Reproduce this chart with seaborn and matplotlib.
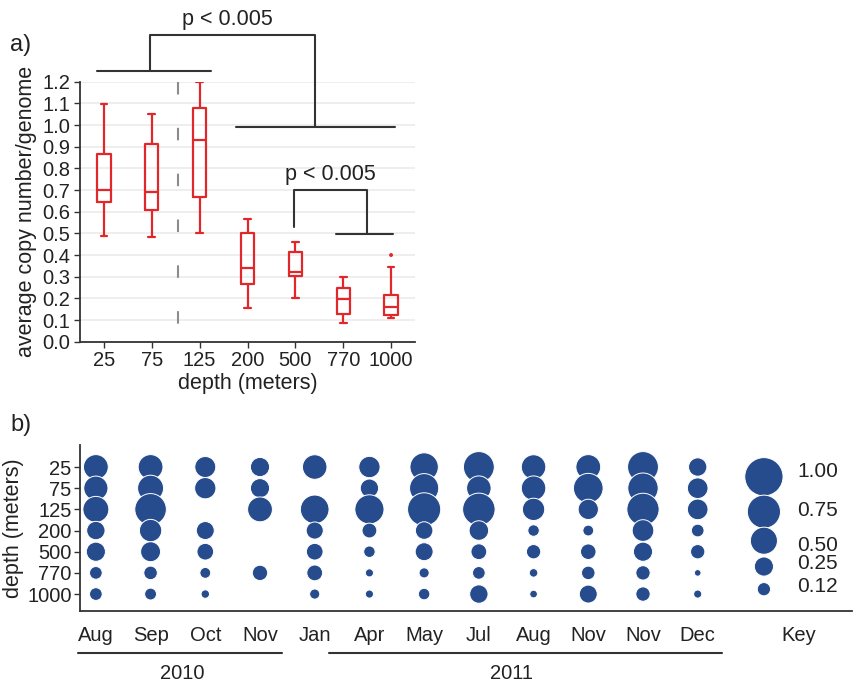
import numpy as np
import pandas as pd
import matplotlib.pyplot as plt
import matplotlib.transforms as mtransforms
import seaborn as sns

# ---- panel a: copy number by depth (box summaries)
depths = ["25", "75", "125", "200", "500", "770", "1000"]
whisk_lo = [0.49, 0.485, 0.503, 0.157, 0.20, 0.085, 0.11]
q1 = [0.646, 0.61, 0.668, 0.266, 0.303, 0.13, 0.123]
median = [0.70, 0.69, 0.929, 0.338, 0.323, 0.197, 0.158]
q3 = [0.866, 0.912, 1.077, 0.50, 0.412, 0.248, 0.215]
whisk_hi = [1.095, 1.05, 1.2, 0.565, 0.458, 0.30, 0.346]
outlier_depth = ["1000"]
outlier_val = [0.40]

# ---- panel b: relative copy number per sampling month and depth
months = ["Aug", "Sep", "Oct", "Nov", "Jan", "Apr", "May", "Jul", "Aug", "Nov", "Nov", "Dec"]
nan = np.nan
d25 = [0.42, 0.42, 0.30, 0.25, 0.41, 0.31, 0.55, 0.65, 0.41, 0.42, 0.65, 0.23]
d75 = [0.40, 0.46, 0.31, 0.25, nan, 0.23, 0.58, 0.41, 0.41, 0.60, 0.63, 0.29]
d125 = [0.46, 0.68, nan, 0.42, 0.56, 0.58, 0.75, 0.72, 0.34, 0.28, 0.71, 0.29]
d200 = [0.23, 0.34, 0.22, nan, 0.20, 0.15, 0.21, 0.26, 0.09, 0.08, 0.32, 0.11]
d500 = [0.25, 0.27, 0.19, nan, 0.19, 0.09, 0.22, 0.17, 0.14, 0.165, 0.25, 0.14]
d770 = [0.11, 0.125, 0.08, 0.16, 0.17, 0.045, 0.07, 0.11, 0.05, 0.125, 0.14, 0.03]
d1000 = [0.11, 0.096, 0.049, nan, 0.07, 0.045, 0.09, 0.23, 0.04, 0.22, 0.14, 0.045]
key_vals = [1.00, 0.75, 0.50, 0.25, 0.12]
key_labels = ["1.00", "0.75", "0.50", "0.25", "0.12"]

red = "#E2272B"
blue = "#274C8E"
dark = "#333333"

sns.set_style("white")
plt.rcParams["font.family"] = ["Liberation Sans", "DejaVu Sans"]

fig = plt.figure(figsize=(8.58, 6.87), dpi=100)
W, H = 858, 687
ax_a = fig.add_axes([80 / W, 1 - 341.7 / H, 335 / W, 260 / H])
ax_b = fig.add_axes([80 / W, 1 - 611 / H, 772 / W, 166 / H])

# five-number lists -> long table so seaborn computes the same quartiles
rows = []
for i, d in enumerate(depths):
    for v in (whisk_lo[i], q1[i], median[i], q3[i], whisk_hi[i]):
        rows.append({"depth": d, "value": v})
df_a = pd.DataFrame(rows)

sns.boxplot(data=df_a, x="depth", y="value", order=depths, ax=ax_a,
            fill=False, color=red, linecolor=red, linewidth=1.6,
            width=0.28, whis=np.inf, showfliers=False)
sns.scatterplot(x=outlier_depth, y=outlier_val, ax=ax_a, color=red,
                s=8, edgecolor="none", legend=False)

ax_a.set_ylim(0, 1.2)
ax_a.set_xlim(-0.5, 6.5)
ax_a.set_yticks(np.arange(0, 1.21, 0.1))
ax_a.set_yticklabels([f"{v:.1f}" for v in np.arange(0, 1.21, 0.1)])
ax_a.yaxis.grid(True, color="#ebebeb", lw=1.2)
ax_a.xaxis.grid(False)
ax_a.set_axisbelow(True)
for s in ["top", "right"]:
    ax_a.spines[s].set_visible(False)
for s in ["left", "bottom"]:
    ax_a.spines[s].set_color(dark)
    ax_a.spines[s].set_linewidth(1.3)
ax_a.tick_params(axis="both", length=4, width=1, color=dark,
                 labelsize=14.5, labelcolor="#222222", pad=3, bottom=True, left=True)
ax_a.set_xlabel("depth (meters)", fontsize=15.5, color="#222222", labelpad=2)
ax_a.set_ylabel("average copy number/genome", fontsize=15.5, color="#222222", labelpad=4)

# dashed separator between 75 and 125 m
ax_a.plot([1.55, 1.55], [1.2, 0], color="#8c8c8c", lw=1.5,
          linestyle=(0, (6, 16)), zorder=1)

# significance brackets
kw = dict(color=dark, lw=1.5, clip_on=False)
ax_a.plot([-0.15, 2.24], [1.249, 1.249], **kw)
ax_a.plot([0.96, 0.96, 4.42, 4.42], [1.249, 1.415, 1.415, 0.992], **kw)
ax_a.plot([2.77, 6.08], [0.992, 0.992], **kw)
ax_a.text(2.58, 1.485, "p < 0.005", ha="center", va="center", fontsize=15.5, color="#222222")
ax_a.plot([3.98, 3.98, 5.49, 5.49], [0.53, 0.70, 0.70, 0.495], **kw)
ax_a.plot([4.85, 6.03], [0.495, 0.495], **kw)
ax_a.text(4.74, 0.77, "p < 0.005", ha="center", va="center", fontsize=15.5, color="#222222")

# ---- panel b bubbles
depth_cols = [d25, d75, d125, d200, d500, d770, d1000]
rows = []
for j, vals in enumerate(depth_cols):
    for i, v in enumerate(vals):
        if not np.isnan(v):
            rows.append({"month": i, "depth": j, "value": v})
df_b = pd.DataFrame(rows)

size_kw = dict(sizes=(0, 760), size_norm=(0, 1), color=blue,
               edgecolor="white", linewidth=0.7, legend=False, ax=ax_b)
sns.scatterplot(data=df_b, x="month", y="depth", size="value", **size_kw)

# key column
key_x = 12.21
key_y = [0.46, 2.11, 3.48, 4.70, 5.77]
key_text_y = [0.22, 2.03, 3.69, 4.54, 5.66]
sns.scatterplot(x=[key_x] * len(key_vals), y=key_y, size=key_vals, **size_kw)
for lab, ty in zip(key_labels, key_text_y):
    ax_b.text(12.82, ty, lab, ha="left", va="center", fontsize=15, color="#222222")

ax_b.set_ylim(6.8, -1.04)
ax_b.set_xlim(-0.29, 13.82)
ax_b.set_yticks(range(len(depths)))
ax_b.set_yticklabels(depths)
ax_b.set_xticks(list(range(len(months))) + [12.84])
ax_b.set_xticklabels(months + ["Key"])
for s in ["top", "right"]:
    ax_b.spines[s].set_visible(False)
for s in ["left", "bottom"]:
    ax_b.spines[s].set_color(dark)
    ax_b.spines[s].set_linewidth(1.3)
ax_b.tick_params(axis="y", length=4, width=1, color=dark, labelsize=14.5,
                 labelcolor="#222222", pad=2, left=True)
ax_b.tick_params(axis="x", length=0, labelsize=14.5, labelcolor="#222222", pad=11)
ax_b.set_xlabel("")
ax_b.set_ylabel("depth (meters)", fontsize=15.5, color="#222222", labelpad=2)

# year brackets under the month labels
tr = mtransforms.blended_transform_factory(ax_b.transData, ax_b.transAxes)
ax_b.plot([-0.33, 3.40], [-0.251, -0.251], color=dark, lw=1.5, transform=tr, clip_on=False)
ax_b.plot([4.26, 11.44], [-0.251, -0.251], color=dark, lw=1.5, transform=tr, clip_on=False)
ax_b.text(1.57, -0.378, "2010", transform=tr, ha="center", va="center", fontsize=14.5, color="#222222")
ax_b.text(7.59, -0.378, "2011", transform=tr, ha="center", va="center", fontsize=14.5, color="#222222")

fig.text(10 / W, 1 - 45 / H, "a)", fontsize=17, va="center", ha="left", color="#222222")
fig.text(10 / W, 1 - 425 / H, "b)", fontsize=17, va="center", ha="left", color="#222222")

fig.savefig("out.png", dpi=100)
